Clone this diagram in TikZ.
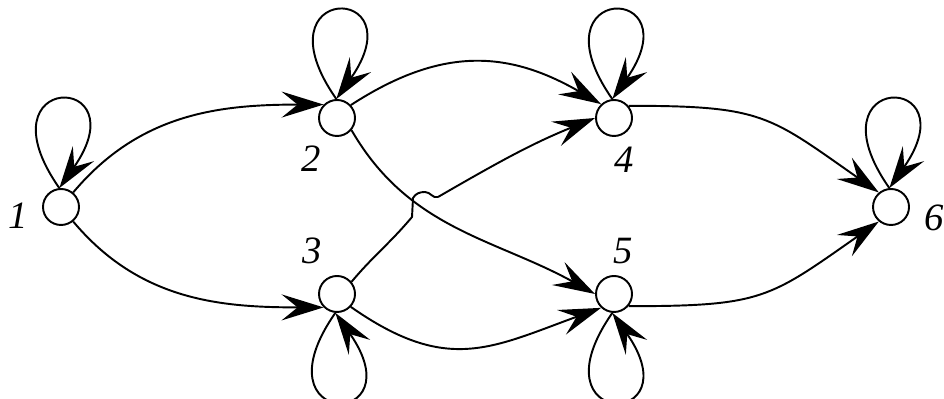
\documentclass[tikz,border=0pt]{standalone}
\usepackage{fontspec}
\setmainfont{Liberation Serif}
\usetikzlibrary{calc, positioning}
\usetikzlibrary{arrows.meta}

\begin{document}
\begin{tikzpicture}[x=0.1mm, y=0.1mm,
  state/.style={circle, draw, line width=0.55pt, minimum size=3.6mm, inner sep=0pt},
  lbl/.style={font=\fontsize{11}{13}\selectfont\itshape, inner sep=0pt},
  trans/.style={line width=0.55pt, -{Stealth[length=4.2mm, width=2.6mm, inset=1.6mm]}},
  selfloop/.style={trans, distance=1.43cm}
]
\useasboundingbox (0,0) rectangle (944,399);

% states
\node[state] (n1) at (61,192) {};
\node[state] (n2) at (337,281) {};
\node[state] (n3) at (337,105) {};
\node[state] (n4) at (614,281) {};
\node[state] (n5) at (614,105) {};
\node[state] (n6) at (891,192) {};

% state labels
\node[lbl] (l1) at (18,183) {1};
\node[lbl] (l2) at (311,240) {2};
\node[lbl] (l3) at (312,148) {3};
\node[lbl] (l4) at (624,239) {4};
\node[lbl] (l5) at (623,148) {5};
\node[lbl] (l6) at (934,181) {6};

% hop of 3->4 over 2->5
\coordinate (hA) at (412,182);
\coordinate (hB) at (413,201);
\coordinate (hC) at (425,207);
\coordinate (hD) at (438,202);

% self loops
\draw[selfloop] (n1.95) to[out=125,in=55] (n1.95);
\draw[selfloop] (n2.92) to[out=125,in=55] (n2.92);
\draw[selfloop] (n4.95) to[out=125,in=55] (n4.95);
\draw[selfloop] (n6.95) to[out=125,in=55] (n6.95);
\draw[selfloop] (n3.265) to[out=235,in=305] (n3.265);
\draw[selfloop] (n5.265) to[out=235,in=305] (n5.265);

% transitions
\draw[trans] (n1.50) to[out=50,in=180] (n2.135);
\draw[trans] (n1.-50) to[out=-50,in=180] (n3.225);
\draw[trans] (n2.43) to[out=33,in=150,looseness=1.1] (n4.133);
\draw[trans] (n2.-40) to[out=-60,in=151] (n5.180);
\draw[line width=0.55pt] (n3.40) to[out=50,in=230] (hA) -- (hB)
  to[out=60,in=180] (hC) to[out=0,in=200] (hD);
\draw[trans] (hD) to[out=30,in=202] (n4.180);
\draw[trans] (n3.-43) to[out=-35,in=200,looseness=1.2] (n5.227);
\draw[trans] (n4.40) to[out=0,in=145,looseness=1.3] (n6.130);
\draw[trans] (n5.-40) to[out=0,in=215,looseness=1.3] (n6.230);
\end{tikzpicture}
\end{document}
